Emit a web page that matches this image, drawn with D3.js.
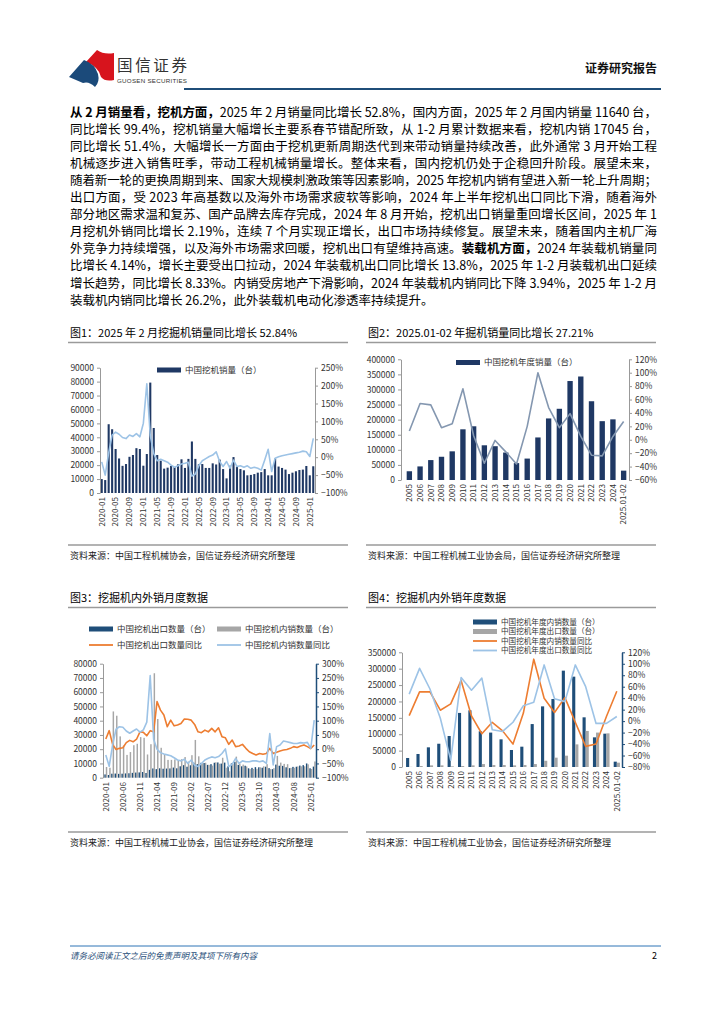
<!DOCTYPE html>
<html><head><meta charset="utf-8">
<script src="https://cdn.jsdelivr.net/npm/d3@7"></script>
<style>
body{margin:0;background:#fff;}
svg{display:block;}
</style></head><body>
<svg id="page" width="724" height="1024"></svg>
<script>
const FONT = '"Noto Sans CJK SC","Noto Sans",sans-serif';
const NAVY1 = "#1f3864", NAVY2 = "#1f4e79", GRAY = "#a6a6a6", ORANGE = "#ed7d31", LBLUE = "#9dc3e6", SLATE = "#8497b0";

// ---------- text ----------
const bodyLines = [
 [["从 2 月销量看，挖机方面，",1],["2025 年 2 月销量同比增长 52.8%，国内方面，2025 年 2 月国内销量 11640 台，",0]],
 [["同比增长 99.4%，挖机销量大幅增长主要系春节错配所致，从 1-2 月累计数据来看，挖机内销 17045 台，",0]],
 [["同比增长 51.4%，大幅增长一方面由于挖机更新周期迭代到来带动销量持续改善，此外通常 3 月开始工程",0]],
 [["机械逐步进入销售旺季，带动工程机械销量增长。整体来看，国内挖机仍处于企稳回升阶段。展望未来，",0]],
 [["随着新一轮的更换周期到来、国家大规模刺激政策等因素影响，2025 年挖机内销有望进入新一轮上升周期；",0]],
 [["出口方面，受 2023 年高基数以及海外市场需求疲软等影响，2024 年上半年挖机出口同比下滑，随着海外",0]],
 [["部分地区需求温和复苏、国产品牌去库存完成，2024 年 8 月开始，挖机出口销量重回增长区间，2025 年 1",0]],
 [["月挖机外销同比增长 2.19%，连续 7 个月实现正增长，出口市场持续修复。展望未来，随着国内主机厂海",0]],
 [["外竞争力持续增强，以及海外市场需求回暖，挖机出口有望维持高速。",0],["装载机方面，",1],["2024 年装载机销量同",0]],
 [["比增长 4.14%，增长主要受出口拉动，2024 年装载机出口同比增长 13.8%，2025 年 1-2 月装载机出口延续",0]],
 [["增长趋势，同比增长 8.33%。内销受房地产下滑影响，2024 年装载机内销同比下降 3.94%，2025 年 1-2 月",0]],
 [["装载机内销同比增长 26.2%，此外装载机电动化渗透率持续提升。",0]]
];

// ---------- data ----------
const months = [];
for (let y = 2020; y <= 2025; y++) for (let m = 1; m <= 12; m++) { if (y === 2025 && m > 2) break; months.push(y + "-" + String(m).padStart(2, "0")); }

// Chart 1
const sales1 = [
 10000, 9300, 49400, 45800, 31600, 24800, 19500, 20800, 26000, 27300, 32200, 31600,
 19600, 28000, 79300, 46700, 27300, 23200, 17500, 18200, 19400, 18700, 20600, 24200,
 18000, 24500, 37000, 24500, 20600, 20800, 18000, 18000, 21300, 20500, 24000, 17200,
 10500, 19600, 25800, 19000, 17200, 16300, 12700, 13000, 13600, 14600, 15000, 17200,
 12700, 12700, 24700, 19000, 18000, 16800, 13600, 14600, 15600, 16500, 16800, 19400,
 12700, 19200];
const yoy1 = [
 -13, -50, 12, 62, 70, 64, 55, 52, 62, 58, 66, 57,
 95, 205, 60, 10, -10, -6, -10, -14, -22, -28, -24, -19,
 -17, -14, -53, -47, -24, -10, -4, 2, 6, 15, -12, -26,
 -12, -31, -8, -26, -24, -28, -24, -31, -28, -31, -36, -8,
 22, -40, -3, 1, 4, 6, 8, 10, 12, 14, 17, 15,
 2, 52.84];
const ticks1 = ["2020-01","2020-05","2020-09","2021-01","2021-05","2021-09","2022-01","2022-05","2022-09","2023-01","2023-05","2023-09","2024-01","2024-05","2024-09","2025-01"];
const left1 = [0,10000,20000,30000,40000,50000,60000,70000,80000,90000];
const right1 = [-1,-0.5,0,0.5,1,1.5,2,2.5];

// Chart 2
const years = ["2005","2006","2007","2008","2009","2010","2011","2012","2013","2014","2015","2016","2017","2018","2019","2020","2021","2022","2023","2024","2025.01-02"];
const sales2 = [29000, 45000, 66000, 77000, 95000, 168000, 178000, 115000, 112000, 91000, 56000, 71000, 141000, 204000, 236000, 328000, 343000, 261000, 195000, 201000, 31000];
const yoy2 = [13, 54, 52, 18, 24, 76, 6, -35, -1, -18, -36, 20, 100, 48, 18, 39, 5, -23, -24, 5, 27.21];
const left2 = [0,50000,100000,150000,200000,250000,300000,350000,400000];
const right2 = [-0.6,-0.4,-0.2,0,0.2,0.4,0.6,0.8,1.0,1.2];

// Chart 3
const export3 = [
 2300, 1900, 2800, 2900, 2700, 2800, 3000, 3100, 3400, 3600, 3700, 4000,
 3300, 5500, 6500, 6000, 6600, 6300, 6400, 6500, 7100, 6600, 8000, 8800,
 7700, 8700, 10500, 9500, 10400, 10300, 9000, 9500, 10500, 10700, 9900, 10600,
 8000, 10000, 11000, 9000, 8000, 8400, 6600, 6900, 7400, 7300, 7000, 7700,
 6700, 6000, 9200, 8400, 8300, 7300, 6700, 7600, 7700, 8500, 8800, 10000,
 6600, 7800];
const domestic3 = [
 7500, 7000, 46500, 43500, 29000, 22500, 16000, 18000, 22800, 23800, 28500, 28000,
 16300, 23500, 73300, 41200, 21000, 16500, 12500, 12500, 12800, 12200, 13000, 14500,
 11300, 15800, 26500, 15000, 10200, 10500, 9000, 8500, 10800, 9800, 14000, 7000,
 4500, 9600, 14800, 10000, 9200, 7900, 6100, 6100, 6200, 7300, 8000, 9500,
 6000, 6700, 15300, 10600, 9700, 9500, 6900, 7000, 7900, 8000, 8000, 9400,
 6100, 11400];
const expYoy3 = [
 36, 65, 17, -1, 3, 5, 23, 31, 26, 35, 61, 59,
 47, 65, 61, 167, 137, 120, 79, 102, 82, 85, 90, 106,
 105, 102, 87, 61, 58, 67, 61, 73, 61, 75, 44, 40,
 17, 32, 9, 11, 17, 3, -9, -15, -20, -15, -18, -15,
 3, -15, -11, -6, -3, -1, 3, 9, 6, 11, 15, 9,
 2.19, 15];
const domYoy3 = [
 -20, -60, 15, 70, 79, 77, 64, 56, 64, 71, 60, 68,
 95, 258, 35, 0, -12, -17, -20, -23, -30, -38, -41, -35,
 -50, -38, -56, -61, -50, -38, -32, -27, -30, -26, -15, 1,
 -61, -53, -32, -50, -41, -44, -44, -41, -41, -44, -41, -50,
 55, -55, 9, 15, 29, 26, 23, 20, 20, 23, 22, 24,
 3, 102];
const ticks3 = ["2020-01","2020-06","2020-11","2021-04","2021-09","2022-02","2022-07","2022-12","2023-05","2023-10","2024-03","2024-08","2025-01"];
const left3 = [0,10000,20000,30000,40000,50000,60000,70000,80000];
const right3 = [-1,-0.5,0,0.5,1,1.5,2,2.5,3];

// Chart 4
const dom4 = [27500, 39700, 60000, 71000, 94600, 165000, 173000, 109000, 105000, 84400, 51900, 62000, 131000, 185000, 207500, 294000, 275700, 151600, 90500, 101700, 16300];
const exp4 = [500, 3000, 5000, 5000, 2000, 3000, 5000, 9000, 6000, 6000, 5000, 6000, 9000, 19000, 28500, 34600, 69000, 110000, 105000, 102700, 13200];
const domYoy4 = [9.5, 51, 51, 19, 30, 71, 9, -22, -2, -17, -40, 14, 108, 40, 15, 41, -2, -44, -40, 8, 52];
const expYoy4 = [47, 92, 56, 5, -68, 76, 54, 75, -15, -18, -2, 27, 33, 98, 39, 34, 98, 60, -4, -4, 8];
const left4 = [0,50000,100000,150000,200000,250000,300000,350000];
const right4 = [-0.8,-0.6,-0.4,-0.2,0,0.2,0.4,0.6,0.8,1.0,1.2];

// ---------- page ----------
const svg = d3.select("#page").attr("font-family", FONT);

// header logo
const logo = svg.append("g");
logo.append("path").attr("d","M86,62 L97,50 Q104,55 114,53 L114,80 Q105,82 101,77 Q99,67 86,62 Z").attr("fill","#d7141d");
logo.append("path").attr("d","M69,77 L84,60 Q95,64 98,74 Q100,82 95,87 Q89,81 83,83 Z").attr("fill","#1b4a7a");
svg.append("text").attr("x",117).attr("y",71).attr("font-size",15.5).attr("fill","#333").attr("textLength",70).text("国信证券");
svg.append("text").attr("x",117).attr("y",83).attr("font-size",6.2).attr("fill","#333").attr("textLength",70).attr("font-family","Liberation Sans, Arial").text("GUOSEN SECURITIES");
svg.append("text").attr("x",657).attr("y",73).attr("text-anchor","end").attr("font-size",12).attr("font-weight","bold").attr("fill","#111").text("证券研究报告");
svg.append("line").attr("x1",184).attr("x2",661).attr("y1",89).attr("y2",89).attr("stroke","#1f4e79").attr("stroke-width",2);

// body text
bodyLines.forEach((runs, i) => {
  const t = svg.append("text").attr("x",70).attr("y",116.5 + i*17.1).attr("font-size",12.5).attr("fill","#000");
  if (i < bodyLines.length - 1) t.attr("textLength",587).attr("lengthAdjust","spacing");
  runs.forEach(r => t.append("tspan").attr("font-weight", r[1] ? "bold" : "normal").text(r[0]));
});

// helpers
function frame(x0, x1, titleY, title, srcY, src) {
  svg.append("text").attr("x",x0+2).attr("y",titleY).attr("font-size",11).attr("fill","#000").text(title);
  svg.append("line").attr("x1",x0).attr("x2",x1).attr("y1",titleY+5.5).attr("y2",titleY+5.5).attr("stroke","#9a9a9a").attr("stroke-width",1.3);
  svg.append("line").attr("x1",x0).attr("x2",x1).attr("y1",srcY-11).attr("y2",srcY-11).attr("stroke","#9a9a9a").attr("stroke-width",1.6);
  svg.append("text").attr("x",x0+2).attr("y",srcY+3).attr("font-size",9).attr("fill","#222").text(src);
}
function styleAxis(g, color, width) {
  g.attr("font-family", FONT).attr("font-size", 8.5);
  g.select(".domain").attr("stroke", color || "#999").attr("stroke-width", width || 1);
  g.selectAll(".tick line").attr("stroke", color || "#999");
  g.selectAll(".tick text").attr("fill", "#333");
}
function yAxes(yL, yR, xL, xR, lt, rt, rColor, rWidth) {
  svg.append("g").attr("transform",`translate(${xL},0)`)
    .call(d3.axisLeft(yL).tickValues(lt).tickFormat(d3.format("d")).tickSize(3).tickSizeOuter(0))
    .call(g => styleAxis(g));
  svg.append("g").attr("transform",`translate(${xR},0)`)
    .call(d3.axisRight(yR).tickValues(rt).tickFormat(d3.format(".0%")).tickSize(3).tickSizeOuter(0))
    .call(g => styleAxis(g, rColor, rWidth));
}
function xAxis(x, yBase, vals, fs) {
  const g = svg.append("g").attr("transform",`translate(0,${yBase})`)
    .call(d3.axisBottom(x).tickValues(vals).tickSize(0));
  g.attr("font-family", FONT).attr("font-size", fs || 8);
  g.select(".domain").remove();
  g.selectAll(".tick text").attr("fill","#333").attr("transform","rotate(-90)")
    .attr("text-anchor","end").attr("x",-4).attr("y",0).attr("dy","0.35em");
}
function legendRect(x, y, color, label, fs) {
  svg.append("rect").attr("x",x).attr("y",y-2.5).attr("width",24).attr("height",5).attr("fill",color);
  svg.append("text").attr("x",x+28).attr("y",y).attr("dy","0.35em").attr("font-size",fs || 8.5).attr("fill","#333").text(label);
}
function legendLine(x, y, color, label, fs) {
  svg.append("line").attr("x1",x).attr("x2",x+24).attr("y1",y).attr("y2",y).attr("stroke",color).attr("stroke-width",1.8);
  svg.append("text").attr("x",x+28).attr("y",y).attr("dy","0.35em").attr("font-size",fs || 8.5).attr("fill","#333").text(label);
}
function drawLine(x, y, cats, vals, color, w) {
  svg.append("path").datum(vals).attr("fill","none").attr("stroke",color).attr("stroke-width",w || 1.6)
    .attr("stroke-linejoin","round")
    .attr("d", d3.line().x((d,i) => x(cats[i]) + x.bandwidth()/2).y(d => y(d/100)));
}

// ---------- Chart 1 ----------
frame(68, 348, 337, "图1：2025 年 2 月挖掘机销量同比增长 52.84%", 556, "资料来源：中国工程机械协会，国信证券经济研究所整理");
{
  const x = d3.scaleBand().domain(months).range([100,315]).paddingInner(0.4).paddingOuter(0.2);
  const yL = d3.scaleLinear().domain([0,90000]).range([493,367.7]);
  const yR = d3.scaleLinear().domain([-1,2.5]).range([493,367.7]);
  svg.append("g").selectAll("rect").data(sales1).join("rect")
    .attr("x",(d,i)=>x(months[i])).attr("y",d=>yL(d)).attr("width",x.bandwidth()).attr("height",d=>yL(0)-yL(d)).attr("fill",NAVY1);
  drawLine(x, yR, months, yoy1, LBLUE, 1.6);
  yAxes(yL, yR, 100, 315, left1, right1);
  xAxis(x, 493, ticks1, 8);
  legendRect(157, 370, NAVY1, "中国挖机销量（台）");
}

// ---------- Chart 2 ----------
frame(366, 656, 337, "图2：2025.01-02 年掘机销量同比增长 27.21%", 556, "资料来源：中国工程机械工业协会局，国信证券经济研究所整理");
{
  const x = d3.scaleBand().domain(years).range([404,629]).paddingInner(0.5).paddingOuter(0.25);
  const yL = d3.scaleLinear().domain([0,400000]).range([480,359.3]);
  const yR = d3.scaleLinear().domain([-0.6,1.2]).range([480,359.3]);
  svg.append("g").selectAll("rect").data(sales2).join("rect")
    .attr("x",(d,i)=>x(years[i])).attr("y",d=>yL(d)).attr("width",x.bandwidth()).attr("height",d=>yL(0)-yL(d)).attr("fill",NAVY1);
  drawLine(x, yR, years, yoy2, SLATE, 1.6);
  yAxes(yL, yR, 401, 629, left2, right2);
  xAxis(x, 480, years, 8);
  legendRect(456, 362.5, NAVY1, "中国挖机年度销量（台）");
}

// ---------- Chart 3 ----------
frame(68, 348, 602, "图3：挖掘机内外销月度数据", 843, "资料来源：中国工程机械工业协会，国信证券经济研究所整理");
{
  const x = d3.scaleBand().domain(months).range([104,316]).paddingInner(0.15).paddingOuter(0.1);
  const sub = d3.scaleBand().domain(["exp","dom"]).range([0,x.bandwidth()]);
  const yL = d3.scaleLinear().domain([0,80000]).range([777.7,663.7]);
  const yR = d3.scaleLinear().domain([-1,3]).range([777.7,663.7]);
  const gb = svg.append("g");
  gb.selectAll("rect.e").data(export3).join("rect").attr("class","e")
    .attr("x",(d,i)=>x(months[i])+sub("exp")).attr("y",d=>yL(d)).attr("width",sub.bandwidth()).attr("height",d=>yL(0)-yL(d)).attr("fill",NAVY2);
  gb.selectAll("rect.d").data(domestic3).join("rect").attr("class","d")
    .attr("x",(d,i)=>x(months[i])+sub("dom")).attr("y",d=>yL(d)).attr("width",sub.bandwidth()).attr("height",d=>yL(0)-yL(d)).attr("fill",GRAY);
  drawLine(x, yR, months, expYoy3, ORANGE, 1.6);
  drawLine(x, yR, months, domYoy3, LBLUE, 1.6);
  yAxes(yL, yR, 103, 316, left3, right3, NAVY2, 1.5);
  xAxis(x, 778, ticks3, 8);
  legendRect(89, 629, NAVY2, "中国挖机出口数量（台）");
  legendRect(217, 629, GRAY, "中国挖机内销数量（台）");
  legendLine(89, 645, ORANGE, "中国挖机出口数量同比");
  legendLine(217, 645, LBLUE, "中国挖机内销数量同比");
}

// ---------- Chart 4 ----------
frame(366, 656, 602, "图4：挖掘机内外销年度数据", 843, "资料来源：中国工程机械工业协会，国信证券经济研究所整理");
{
  const x = d3.scaleBand().domain(years).range([404,622]).paddingInner(0.4).paddingOuter(0.2);
  const sub = d3.scaleBand().domain(["dom","exp"]).range([0,x.bandwidth()]);
  const yL = d3.scaleLinear().domain([0,350000]).range([767,652.3]);
  const yR = d3.scaleLinear().domain([-0.8,1.2]).range([767,652.3]);
  const gb = svg.append("g");
  gb.selectAll("rect.d").data(dom4).join("rect").attr("class","d")
    .attr("x",(d,i)=>x(years[i])+sub("dom")).attr("y",d=>yL(d)).attr("width",sub.bandwidth()).attr("height",d=>yL(0)-yL(d)).attr("fill",NAVY2);
  gb.selectAll("rect.e").data(exp4).join("rect").attr("class","e")
    .attr("x",(d,i)=>x(years[i])+sub("exp")).attr("y",d=>yL(d)).attr("width",sub.bandwidth()).attr("height",d=>yL(0)-yL(d)).attr("fill",GRAY);
  drawLine(x, yR, years, domYoy4, ORANGE, 1.6);
  drawLine(x, yR, years, expYoy4, LBLUE, 1.6);
  yAxes(yL, yR, 402, 622, left4, right4, NAVY2, 1.5);
  xAxis(x, 767, years, 8);
  legendRect(473, 622, NAVY2, "中国挖机年度内销数量（台）", 7.6);
  legendRect(473, 631.5, GRAY, "中国挖机年度出口数量（台）", 7.6);
  legendLine(473, 641, ORANGE, "中国挖机年度内销数量同比", 7.6);
  legendLine(473, 650.5, LBLUE, "中国挖机年度出口数量同比", 7.6);
}

// ---------- footer ----------
svg.append("line").attr("x1",70).attr("x2",661).attr("y1",946).attr("y2",946).attr("stroke","#2e75b6").attr("stroke-width",1);
svg.append("text").attr("x",70).attr("y",958.5).attr("font-size",8.5).attr("font-style","italic").attr("fill","#1f4e79").text("请务必阅读正文之后的免责声明及其项下所有内容");
svg.append("text").attr("x",657).attr("y",958.5).attr("text-anchor","end").attr("font-size",9).attr("fill","#000").text("2");
</script></body></html>
